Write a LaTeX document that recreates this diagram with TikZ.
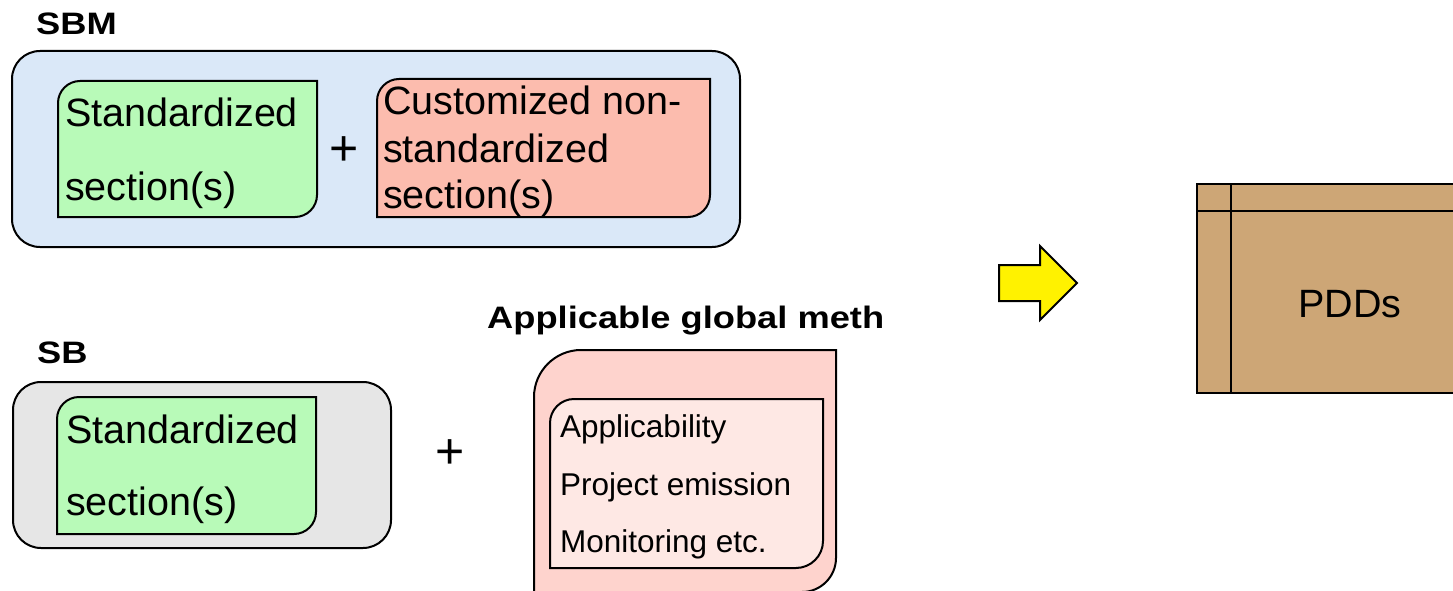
\documentclass[tikz,border=0pt]{standalone}
\usepackage{fontspec}
\setmainfont{Liberation Sans}
\newfontfamily\titlefont{Liberation Sans}[FakeStretch=1.17]
\usepackage{tikz}
\usetikzlibrary{positioning, calc}

\definecolor{sbmblue}{RGB}{218,232,248}
\definecolor{stdgreen}{RGB}{184,250,184}
\definecolor{custsalmon}{RGB}{252,188,174}
\definecolor{methpink}{RGB}{254,211,205}
\definecolor{methinner}{RGB}{254,232,228}
\definecolor{sbgray}{RGB}{230,230,230}
\definecolor{pddtan}{RGB}{205,166,118}

% box with rounded top-left and bottom-right corners
% #1 style, #2 x1, #3 y1 (top), #4 x2, #5 y2 (bottom), #6 r top-left, #7 r bottom-right
\newcommand{\card}[7]{%
	\draw[#1] (#2,#5) -- (#2,#3+#6)
	.. controls (#2,#3+0.45*#6) and (#2+0.45*#6,#3) .. (#2+#6,#3)
	-- (#4,#3) -- (#4,#5-#7)
	.. controls (#4,#5-0.45*#7) and (#4-0.45*#7,#5) .. (#4-#7,#5) -- cycle;}

\tikzset{
	edge/.style={draw=black, line width=2pt},
	bigtext/.style={anchor=base west, inner sep=0pt, font=\fontsize{39.5}{47}\selectfont},
	smalltext/.style={anchor=base west, inner sep=0pt, font=\fontsize{31.5}{37}\selectfont},
	title/.style={anchor=base west, inner sep=0pt, font=\titlefont\bfseries\fontsize{31}{37}\selectfont},
	plus/.style={inner sep=0pt, font=\fontsize{50}{60}\selectfont}
}

\begin{document}
\begin{tikzpicture}[x=1pt, y=-1pt]
	\useasboundingbox (0,0) rectangle (1453,591);
	\clip (0,0) rectangle (1453,591);
	
	% === 1. SBM ===
	\node[title] (sbmTitle) at (36,35) {SBM};
	\draw[edge, fill=sbmblue, rounded corners=28] (12,51) rectangle (740,247);
	\card{edge, fill=stdgreen}{58}{81}{317}{217}{22}{22}
	\node[bigtext] (sbmStd1) at (65,127) {Standardized};
	\node[bigtext] (sbmStd2) at (65,200) {section(s)};
	\node[plus] (sbmPlus) at (344,151) {+};
	\card{edge, fill=custsalmon}{377}{79}{710}{217}{22}{22}
	\node[bigtext] (sbmCust1) at (383,115) {Customized non-};
	\node[bigtext] (sbmCust2) at (383,162) {standardized};
	\node[bigtext] (sbmCust3) at (383,208) {section(s)};
	
	% === 2. SB ===
	\node[title] (sbTitle) at (37,363) {SB};
	\draw[edge, fill=sbgray, rounded corners=28] (13,382) rectangle (391,548);
	\card{edge, fill=stdgreen}{57}{397}{316}{534}{22}{22}
	\node[bigtext] (sbStd1) at (66,443) {Standardized};
	\node[bigtext] (sbStd2) at (66,515) {section(s)};
	\node[plus] (sbPlus) at (450,454) {+};
	
	% === 3. APPLICABLE GLOBAL METH ===
	\node[title] (methTitle) at (487,328) {Applicable global meth};
	\card{edge, fill=methpink}{534}{350}{836}{592}{47}{34}
	\card{edge, fill=methinner}{550}{399}{823}{568}{24}{27}
	\node[smalltext] (methApp) at (560,437) {Applicability};
	\node[smalltext] (methProj) at (560,495) {Project emission};
	\node[smalltext] (methMon) at (560,552) {Monitoring etc.};
	
	% === 4. ARROW ===
	\draw[edge, fill=yellow] (999,265) -- (1040,265) -- (1040,246) -- (1077,283)
	-- (1040,320) -- (1040,301) -- (999,301) -- cycle;
	
	% === 5. PDDs ===
	\draw[edge, fill=pddtan] (1197,184) rectangle (1470,393);
	\draw[edge] (1231,184) -- (1231,393);
	\draw[edge] (1197,211) -- (1470,211);
	\node[inner sep=0pt, anchor=base west, font=\fontsize{39.5}{47}\selectfont] (pdds) at (1298,317) {PDDs};
	
\end{tikzpicture}
\end{document}
